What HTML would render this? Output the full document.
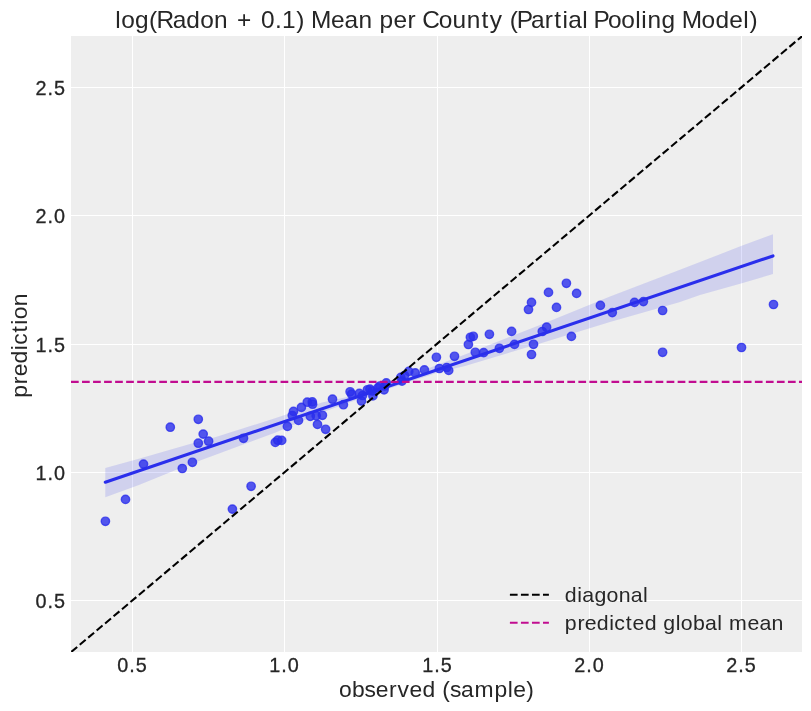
<!DOCTYPE html>
<html><head><meta charset="utf-8"><title>log(Radon + 0.1) Mean per County (Partial Pooling Model)</title>
<style>
html,body{margin:0;padding:0;background:#fff;}
body{width:811px;height:711px;overflow:hidden;}
svg{display:block;will-change:transform;}
text{font-family:"Liberation Sans",sans-serif;fill:#262626;}
</style></head><body>
<svg width="811" height="711" viewBox="0 0 811 711">
<rect x="0" y="0" width="811" height="711" fill="#ffffff"/>
<rect x="71" y="36" width="731.0" height="616.0" fill="#eeeeee"/>
<g stroke="#ffffff" stroke-width="1.1" fill="none">
<line x1="132.5" y1="36" x2="132.5" y2="652"/>
<line x1="284.5" y1="36" x2="284.5" y2="652"/>
<line x1="437.5" y1="36" x2="437.5" y2="652"/>
<line x1="589.5" y1="36" x2="589.5" y2="652"/>
<line x1="741.5" y1="36" x2="741.5" y2="652"/>
<line x1="71" y1="87.5" x2="802" y2="87.5"/>
<line x1="71" y1="215.5" x2="802" y2="215.5"/>
<line x1="71" y1="344.5" x2="802" y2="344.5"/>
<line x1="71" y1="472.5" x2="802" y2="472.5"/>
<line x1="71" y1="600.5" x2="802" y2="600.5"/>
</g>
<clipPath id="ax"><rect x="71" y="36" width="731.0" height="616.0"/></clipPath>
<g clip-path="url(#ax)">
<g fill="#2a2eec" fill-opacity="0.8" stroke="#2a2eec" stroke-opacity="0.8" stroke-width="1.39">
<circle cx="105.4" cy="521.3" r="4.17"/>
<circle cx="125.5" cy="499.4" r="4.17"/>
<circle cx="143.5" cy="464.1" r="4.17"/>
<circle cx="170.3" cy="427.2" r="4.17"/>
<circle cx="182.3" cy="468.5" r="4.17"/>
<circle cx="192.4" cy="462.3" r="4.17"/>
<circle cx="198.3" cy="419.3" r="4.17"/>
<circle cx="203.2" cy="434.1" r="4.17"/>
<circle cx="198.3" cy="443.2" r="4.17"/>
<circle cx="208.6" cy="441.2" r="4.17"/>
<circle cx="243.5" cy="438.3" r="4.17"/>
<circle cx="232.4" cy="509.1" r="4.17"/>
<circle cx="251.1" cy="486.3" r="4.17"/>
<circle cx="275.3" cy="442.4" r="4.17"/>
<circle cx="277.8" cy="440.2" r="4.17"/>
<circle cx="281.7" cy="440.4" r="4.17"/>
<circle cx="287.4" cy="426.4" r="4.17"/>
<circle cx="298.5" cy="420.4" r="4.17"/>
<circle cx="292.3" cy="415.5" r="4.17"/>
<circle cx="293.5" cy="411.4" r="4.17"/>
<circle cx="301.4" cy="407.4" r="4.17"/>
<circle cx="307.3" cy="402.2" r="4.17"/>
<circle cx="312.3" cy="401.9" r="4.17"/>
<circle cx="312.6" cy="404.2" r="4.17"/>
<circle cx="332.5" cy="399.2" r="4.17"/>
<circle cx="310.3" cy="416.3" r="4.17"/>
<circle cx="316.2" cy="415.7" r="4.17"/>
<circle cx="322.4" cy="415.3" r="4.17"/>
<circle cx="317.5" cy="424.4" r="4.17"/>
<circle cx="325.6" cy="429.3" r="4.17"/>
<circle cx="343.4" cy="404.7" r="4.17"/>
<circle cx="350.1" cy="391.8" r="4.17"/>
<circle cx="351.6" cy="394.2" r="4.17"/>
<circle cx="359.3" cy="393.4" r="4.17"/>
<circle cx="361.5" cy="401" r="4.17"/>
<circle cx="362.5" cy="395.5" r="4.17"/>
<circle cx="367.4" cy="389.8" r="4.17"/>
<circle cx="369.9" cy="389.1" r="4.17"/>
<circle cx="372.9" cy="395.9" r="4.17"/>
<circle cx="372.3" cy="391" r="4.17"/>
<circle cx="377.9" cy="387.9" r="4.17"/>
<circle cx="379.8" cy="386" r="4.17"/>
<circle cx="384.1" cy="389.8" r="4.17"/>
<circle cx="386.3" cy="382.9" r="4.17"/>
<circle cx="384.7" cy="386" r="4.17"/>
<circle cx="400.8" cy="377.4" r="4.17"/>
<circle cx="402" cy="381.1" r="4.17"/>
<circle cx="404.5" cy="375.5" r="4.17"/>
<circle cx="408.8" cy="371.4" r="4.17"/>
<circle cx="415.2" cy="372.9" r="4.17"/>
<circle cx="424.4" cy="369.9" r="4.17"/>
<circle cx="436.4" cy="357.3" r="4.17"/>
<circle cx="439.4" cy="368.5" r="4.17"/>
<circle cx="446.8" cy="367.5" r="4.17"/>
<circle cx="448.7" cy="370.4" r="4.17"/>
<circle cx="454.5" cy="356.3" r="4.17"/>
<circle cx="468.4" cy="344.5" r="4.17"/>
<circle cx="470.4" cy="337.3" r="4.17"/>
<circle cx="473.3" cy="336.3" r="4.17"/>
<circle cx="475.3" cy="352.3" r="4.17"/>
<circle cx="483.7" cy="352.6" r="4.17"/>
<circle cx="489.4" cy="334.3" r="4.17"/>
<circle cx="499.4" cy="348.3" r="4.17"/>
<circle cx="511.6" cy="331.4" r="4.17"/>
<circle cx="514.5" cy="344.4" r="4.17"/>
<circle cx="531.5" cy="302.4" r="4.17"/>
<circle cx="528.5" cy="309.5" r="4.17"/>
<circle cx="533.5" cy="344.3" r="4.17"/>
<circle cx="531.5" cy="354.5" r="4.17"/>
<circle cx="542.3" cy="331.5" r="4.17"/>
<circle cx="546.6" cy="327.2" r="4.17"/>
<circle cx="548.5" cy="292.4" r="4.17"/>
<circle cx="566.4" cy="283.3" r="4.17"/>
<circle cx="576.6" cy="293.4" r="4.17"/>
<circle cx="556.5" cy="307.4" r="4.17"/>
<circle cx="571.4" cy="336.4" r="4.17"/>
<circle cx="600.4" cy="305.4" r="4.17"/>
<circle cx="612.3" cy="312.6" r="4.17"/>
<circle cx="634.5" cy="302.4" r="4.17"/>
<circle cx="643.4" cy="301.6" r="4.17"/>
<circle cx="662.6" cy="310.5" r="4.17"/>
<circle cx="662.6" cy="352.3" r="4.17"/>
<circle cx="741.5" cy="347.5" r="4.17"/>
<circle cx="773.5" cy="304.5" r="4.17"/>
</g>
<polygon points="105.3,468.1 138.9,458.7 190.0,443.9 215.0,437.2 275.0,418.3 322.0,402.6 352.0,396.0 385.0,384.9 437.0,365.1 465.0,354.4 540.0,325.1 610.0,296.6 679.3,270.0 700.0,262.1 741.0,246.0 773.0,234.2 773.0,274.1 741.0,283.4 700.0,295.1 679.3,302.3 610.0,322.0 540.0,343.4 465.0,365.9 437.0,372.7 385.0,389.9 352.0,401.6 322.0,412.4 275.0,432.8 215.0,454.9 190.0,464.2 138.9,485.0 105.3,497.3" fill="#2a2eec" fill-opacity="0.15"/>
<line x1="105.3" y1="482.2" x2="773.0" y2="255.9" stroke="#2a2eec" stroke-width="3.125" stroke-linecap="round"/>
<line x1="71.3" y1="651.9" x2="802.2" y2="36.1" stroke="#000" stroke-width="2.08" stroke-dasharray="7.71 3.337"/>
<line x1="71" y1="381.9" x2="802" y2="381.9" stroke="#c10c90" stroke-width="2.08" stroke-dasharray="7.7 3.33"/>
</g>
<line x1="509.9" y1="594.7" x2="548.9" y2="594.7" stroke="#000" stroke-width="2.08" stroke-dasharray="7.7 3.33"/>
<line x1="509.9" y1="622.7" x2="548.9" y2="622.7" stroke="#c10c90" stroke-width="2.08" stroke-dasharray="7.7 3.33"/>
<text transform="translate(564.60 601.60) scale(1.045 1)" font-size="20.4" x="0.23 12.13 17.01 28.62 40.21 51.80 63.40 75.09" y="0">diagonal</text>
<text transform="translate(564.60 629.80) scale(1.045 1)" font-size="20.4" x="0.23 12.24 19.31 30.73 42.63 47.49 58.52 65.06 76.69 88.39 94.41 106.31 111.18 122.78 134.38 146.07 151.05 157.41 175.02 186.44 198.04" y="0">predicted global mean</text>
<text transform="translate(436.40 27.60) scale(1.045 1)" font-size="23.4" x="-307.24 -301.69 -288.44 -274.93 -267.95 -252.33 -239.30 -226.05 -212.80 -199.43 -190.72 -174.85 -167.96 -154.56 -147.67 -134.15 -125.98 -119.92 -100.96 -87.91 -74.65 -61.28 -54.41 -41.11 -27.59 -19.19 -13.59 2.28 15.53 29.00 43.17 51.03 63.30 70.18 76.84 90.58 103.60 112.79 120.56 126.13 139.50 145.19 150.42 164.26 176.89 190.26 196.16 201.95 215.44 228.82 234.88 253.80 267.05 280.34 293.75 299.55" y="0">log(Radon + 0.1) Mean per County (Partial Pooling Model)</text>
<text transform="translate(436.50 697.40) scale(1.045 1)" font-size="21.9" x="-93.39 -80.96 -68.83 -58.12 -45.44 -37.27 -25.86 -13.40 -0.85 5.60 12.85 23.54 36.33 55.40 68.15 73.40 85.86" y="0">observed (sample)</text>
<text transform="translate(27.30 397.90) rotate(-90) scale(1.045 1)" font-size="21.9" x="0.24 13.11 20.67 32.92 45.67 50.88 62.70 69.99 75.20 87.61" y="0">prediction</text>
<text transform="translate(132.10 672.20) scale(1.0 1)" font-size="19.8" stroke="#262626" stroke-width="0.3" x="-14.78 -2.75 3.77" y="0">0.5</text>
<text transform="translate(284.10 672.20) scale(1.0 1)" font-size="19.8" stroke="#262626" stroke-width="0.3" x="-14.78 -2.75 3.77" y="0">1.0</text>
<text transform="translate(437.10 672.20) scale(1.0 1)" font-size="19.8" stroke="#262626" stroke-width="0.3" x="-14.78 -2.75 3.77" y="0">1.5</text>
<text transform="translate(589.10 672.20) scale(1.0 1)" font-size="19.8" stroke="#262626" stroke-width="0.3" x="-14.78 -2.75 3.77" y="0">2.0</text>
<text transform="translate(741.10 672.20) scale(1.0 1)" font-size="19.8" stroke="#262626" stroke-width="0.3" x="-14.78 -2.75 3.77" y="0">2.5</text>
<text transform="translate(65.70 95.00) scale(1.0 1)" font-size="19.8" stroke="#262626" stroke-width="0.3" x="-30.24 -18.21 -11.69" y="0">2.5</text>
<text transform="translate(65.70 223.00) scale(1.0 1)" font-size="19.8" stroke="#262626" stroke-width="0.3" x="-30.24 -18.21 -11.69" y="0">2.0</text>
<text transform="translate(65.70 352.00) scale(1.0 1)" font-size="19.8" stroke="#262626" stroke-width="0.3" x="-30.24 -18.21 -11.69" y="0">1.5</text>
<text transform="translate(65.70 480.00) scale(1.0 1)" font-size="19.8" stroke="#262626" stroke-width="0.3" x="-30.24 -18.21 -11.69" y="0">1.0</text>
<text transform="translate(65.70 608.00) scale(1.0 1)" font-size="19.8" stroke="#262626" stroke-width="0.3" x="-30.24 -18.21 -11.69" y="0">0.5</text>
</svg></body></html>
